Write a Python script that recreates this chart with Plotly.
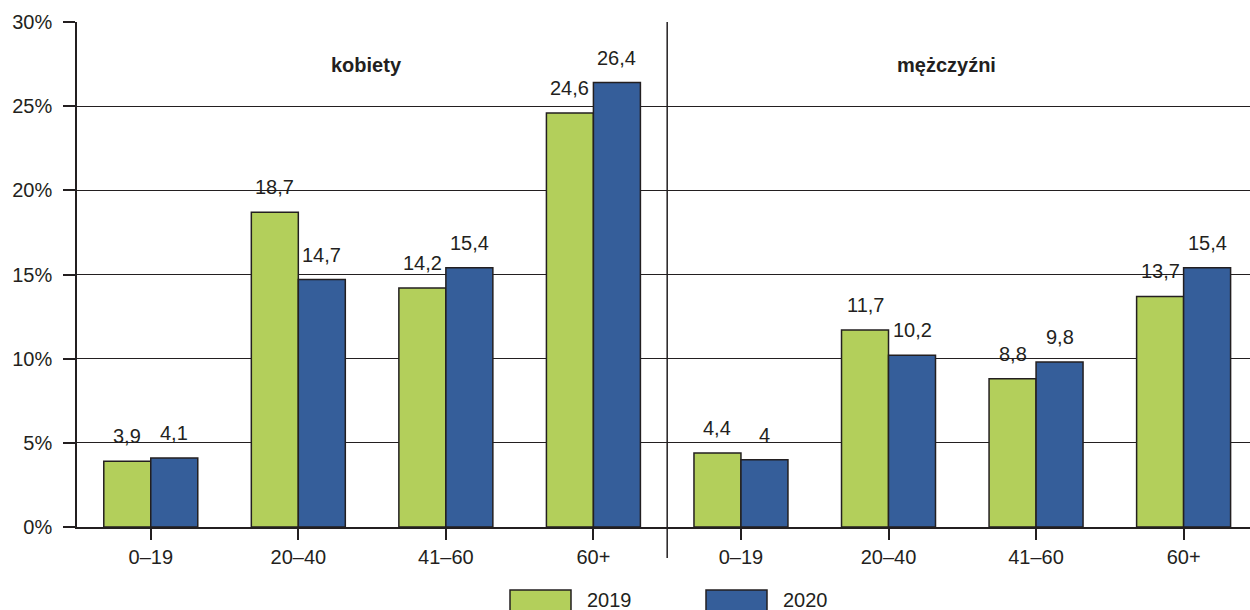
import plotly.graph_objects as go

# Age groups, repeated for each sex panel
age_groups = ["0–19", "20–40", "41–60", "60+"]
panels = ["kobiety", "mężczyźni"]
years = ["2019", "2020"]

# Share (%) by age group: women then men
women_2019 = [3.9, 18.7, 14.2, 24.6]
women_2020 = [4.1, 14.7, 15.4, 26.4]
men_2019 = [4.4, 11.7, 8.8, 13.7]
men_2020 = [4, 10.2, 9.8, 15.4]

y_ticks = [0, 5, 10, 15, 20, 25, 30]

INK = "#231f20"
GREEN = "#b3cf5b"
BLUE = "#355e9a"
FONT = "Liberation Sans, Arial, sans-serif"
FS = 20

n = len(age_groups)
positions = list(range(2 * n))
series = {
    years[0]: women_2019 + men_2019,
    years[1]: women_2020 + men_2020,
}
colors = {years[0]: GREEN, years[1]: BLUE}

fig = go.Figure()
for yr in years:
    fig.add_trace(go.Bar(
        x=positions,
        y=series[yr],
        name=yr,
        marker=dict(color=colors[yr], line=dict(color=INK, width=1.5)),
        showlegend=False,
        hoverinfo="skip",
    ))


def fmt(v):
    return f"{v:g}".replace(".", ",")


# value labels above each bar
annotations = []
half = 23.5
for k, yr in enumerate(years):
    shift = -half if k == 0 else half
    for x, v in zip(positions, series[yr]):
        annotations.append(dict(
            x=x, y=v, xref="x", yref="y", text=fmt(v), showarrow=False,
            xshift=shift, yshift=25, yanchor="middle",
            font=dict(family=FONT, size=FS, color=INK),
        ))

# panel titles
title_shift = [-6, -16]
for i, title in enumerate(panels):
    annotations.append(dict(
        x=i * n + (n - 1) / 2, y=0.915, xref="x", yref="paper", text=f"<b>{title}</b>",
        showarrow=False, yanchor="middle", xshift=title_shift[i],
        font=dict(family=FONT, size=FS, color=INK),
    ))

# legend: wide swatches with labels below the axis
legend_x = [510, 706]
shapes = []
for lx, yr in zip(legend_x, years):
    shapes.append(dict(
        type="rect", xref="paper", yref="paper",
        x0=(lx - 77) / 1173, x1=(lx + 61 - 77) / 1173,
        y0=-(613 - 527) / 505, y1=-(590 - 527) / 505,
        fillcolor=colors[yr], line=dict(color=INK, width=1.5), layer="above",
    ))
    annotations.append(dict(
        x=(lx + 75 - 77) / 1173, y=-(600 - 527) / 505, xref="paper", yref="paper",
        text=yr, showarrow=False, xanchor="left", yanchor="middle",
        font=dict(family=FONT, size=FS, color=INK),
    ))

# separator between the two panels
shapes.append(dict(
    type="line", xref="x", yref="paper", x0=n - 0.5, x1=n - 0.5,
    y0=-(558 - 527) / 505, y1=1, line=dict(color=INK, width=1.5),
))

fig.update_layout(
    width=1250, height=610,
    margin=dict(l=77, r=0, t=22, b=83),
    paper_bgcolor="white", plot_bgcolor="white",
    barmode="group", bargap=0.363, bargroupgap=0,
    annotations=annotations, shapes=shapes,
    font=dict(family=FONT, size=FS, color=INK),
)
fig.update_xaxes(
    range=[-0.5, 2 * n - 0.55],
    tickmode="array", tickvals=positions, ticktext=age_groups * 2,
    ticks="outside", tickson="boundaries", ticklen=11, tickwidth=1.5, tickcolor=INK,
    showline=True, linecolor=INK, linewidth=1.5,
    showgrid=False, zeroline=False,
    tickfont=dict(family=FONT, size=FS, color=INK),
)
fig.update_yaxes(
    range=[0, 30], tickmode="array", tickvals=y_ticks,
    ticktext=[f"{t}%" for t in y_ticks],
    ticks="outside", ticklen=12, tickwidth=1.5, tickcolor=INK,
    showline=True, linecolor=INK, linewidth=1.5,
    showgrid=True, gridcolor=INK, gridwidth=1.2, zeroline=False,
    ticklabelstandoff=7,
    tickfont=dict(family=FONT, size=FS, color=INK),
)

fig.write_html("out.html")
